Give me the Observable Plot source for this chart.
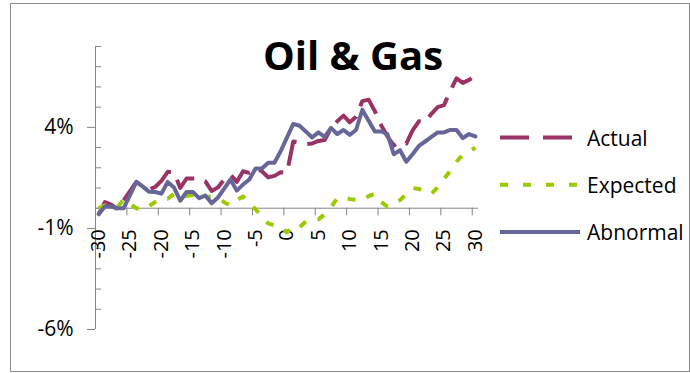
<!DOCTYPE html>
<html>
<head>
<meta charset="utf-8">
<script src="https://cdn.jsdelivr.net/npm/d3@7"></script>
<script src="https://cdn.jsdelivr.net/npm/@observablehq/plot@0.6"></script>
<style>
  html, body { margin: 0; padding: 0; background: #fff; }
  #chart { position: relative; width: 690px; height: 373px; overflow: hidden; background: #fff; }
  #chart svg { position: absolute; left: 0; top: 0; }
</style>
</head>
<body>
<div id="chart"></div>
<script>
// Event window (days relative to the event)
const days = [
  -30, -29, -28, -27, -26, -25, -24, -23, -22, -21,
  -20, -19, -18, -17, -16, -15, -14, -13, -12, -11,
  -10, -9, -8, -7, -6, -5, -4, -3, -2, -1,
  0, 1, 2, 3, 4, 5, 6, 7, 8, 9,
  10, 11, 12, 13, 14, 15, 16, 17, 18, 19,
  20, 21, 22, 23, 24, 25, 26, 27, 28, 29, 30
];

// Cumulative returns, in percent
const actual = [
  -0.30, 0.30, 0.18, -0.05, 0.40, 0.85, 1.30, 1.08, 0.92, 1.05,
  1.35, 1.80, 1.78, 1.00, 1.47, 1.47, 1.47, 1.33, 0.85, 1.03,
  1.42, 1.67, 1.30, 1.83, 1.75, 1.97, 1.83, 1.53, 1.60, 1.78,
  1.75, 3.30, 3.25, 3.17, 3.20, 3.33, 3.37, 3.95, 4.30, 4.58,
  4.25, 4.53, 5.30, 5.37, 4.80, 4.10, 3.55, 3.10, 3.30, 3.20,
  3.85, 4.30, 4.25, 4.67, 5.00, 5.10, 5.80, 6.42, 6.20, 6.35, 6.55
];
const expected = [
  0.00, 0.15, 0.10, 0.05, 0.45, 0.20, 0.00, -0.08, 0.10, 0.30,
  0.50, 0.47, 0.70, 0.55, 0.60, 0.65, 0.80, 0.58, 0.55, 0.50,
  0.30, 0.13, 0.40, 0.58, 0.25, -0.05, -0.42, -0.75, -0.85, -0.90,
  -1.20, -0.88, -0.95, -0.65, -0.60, -0.55, -0.30, 0.05, 0.50, 0.53,
  0.45, 0.42, 0.38, 0.60, 0.72, 0.30, 0.08, 0.22, 0.40, 0.70,
  1.00, 0.95, 0.87, 0.70, 1.05, 1.45, 1.85, 2.30, 2.65, 2.80, 3.00
];
const abnormal = [
  -0.30, 0.08, 0.08, 0.00, 0.00, 0.65, 1.30, 1.08, 0.82, 0.80,
  0.72, 1.30, 1.03, 0.37, 0.80, 0.80, 0.50, 0.63, 0.25, 0.53,
  0.97, 1.42, 0.87, 1.17, 1.42, 1.97, 1.97, 2.25, 2.25, 2.83,
  3.50, 4.17, 4.08, 3.80, 3.50, 3.75, 3.53, 3.97, 3.67, 3.87,
  3.63, 3.87, 4.87, 4.33, 3.80, 3.80, 3.67, 2.67, 2.87, 2.30,
  2.67, 3.08, 3.30, 3.53, 3.75, 3.75, 3.87, 3.87, 3.47, 3.67, 3.55
];

// Axis labels and tick positions
const xLabels = [-30, -25, -20, -15, -10, -5, 0, 5, 10, 15, 20, 25, 30];
const xTickMarks = [-25.5, -20.5, -15.5, -10.5, -5.5, -0.5, 4.5, 9.5, 14.5, 19.5, 24.5, 29.5];
const yMajor = [-6, -1, 4];
const yMinor = [-5, -4, -3, -2, 0, 1, 2, 3, 5, 6, 7, 8];

const seriesNames = ["Actual", "Expected", "Abnormal"];
const seriesColors = ["#993366", "#99cc00", "#666699"];

const title = "Oil & Gas";

// Layout
const W = 690, H = 373;
const M = {left: 95, right: 212, top: 46, bottom: 44};
const frameW = W - M.left - M.right;
const xDomain = [-30.5, 30.5];
const axisGray = "#868686";
const xTickLen = 0.38; // in percentage points (≈ 7–8 px)

const rows = days.map((day, i) => ({
  day, actual: actual[i], expected: expected[i], abnormal: abnormal[i]
}));

const plot = Plot.plot({
  width: W,
  height: H,
  marginLeft: M.left,
  marginRight: M.right,
  marginTop: M.top,
  marginBottom: M.bottom,
  x: {domain: xDomain, axis: null},
  y: {domain: [-6, 8]},
  style: {
    fontFamily: "'Open Sans', sans-serif",
    fontSize: "21px",
    color: "#000",
    background: "transparent",
    overflow: "visible"
  },
  marks: [
    // vertical axis line with minor (inside) and major (outside) ticks
    Plot.ruleX([xDomain[0]], {stroke: axisGray, strokeWidth: 1}),
    Plot.tickY(yMinor, {y: d => d, stroke: axisGray, insetRight: frameW - 6}),
    Plot.axisY(yMajor, {
      anchor: "left",
      tickSize: 8,
      tickPadding: 14,
      tickFormat: d => `${d}%`,
      stroke: axisGray,
      fill: "#000",
      fontSize: 21
    }),
    // horizontal axis at zero
    Plot.ruleY([0], {stroke: axisGray, strokeWidth: 1}),
    Plot.ruleX(xTickMarks, {x: d => d, y1: 0, y2: -xTickLen, stroke: axisGray}),
    Plot.text(xLabels, {
      x: d => d,
      y: 0,
      text: d => String(d),
      rotate: -90,
      textAnchor: "end",
      dy: 21,
      fontSize: 20,
      fill: "#000"
    }),
    // series
    Plot.lineY(rows, {
      x: "day", y: "actual",
      stroke: seriesColors[0], strokeWidth: 4,
      strokeDasharray: "28,11", strokeLinejoin: "round", strokeLinecap: "butt"
    }),
    Plot.lineY(rows, {
      x: "day", y: "expected",
      stroke: seriesColors[1], strokeWidth: 4,
      strokeDasharray: "8,12", strokeLinejoin: "round", strokeLinecap: "butt"
    }),
    Plot.lineY(rows, {
      x: "day", y: "abnormal",
      stroke: seriesColors[2], strokeWidth: 4,
      strokeLinejoin: "round", strokeLinecap: "round"
    })
  ]
});

const root = document.getElementById("chart");
root.appendChild(plot);

// Chart frame, title and legend drawn on top of the plot
const overlay = d3.select(root).append("svg")
  .attr("width", W).attr("height", H)
  .style("pointer-events", "none");

overlay.append("rect")
  .attr("x", 10.5).attr("y", 3.5)
  .attr("width", 679).attr("height", 368)
  .attr("fill", "none")
  .attr("stroke", "#8c8c8c");

overlay.append("text")
  .attr("x", 353).attr("y", 70)
  .attr("text-anchor", "middle")
  .style("font-family", "'Open Sans', sans-serif")
  .style("font-weight", "bold")
  .style("font-size", "40px")
  .attr("fill", "#000")
  .text(title);

const legendDash = ["29,14", "8,15", null];
const legend = overlay.append("g")
  .selectAll("g")
  .data(seriesNames)
  .join("g")
  .attr("transform", (d, i) => `translate(0, ${137.5 + i * 47.2})`);

legend.append("line")
  .attr("x1", 500).attr("x2", 580)
  .attr("stroke", (d, i) => seriesColors[i])
  .attr("stroke-width", 4)
  .attr("stroke-dasharray", (d, i) => legendDash[i]);

legend.append("text")
  .attr("x", 587).attr("y", 8.5)
  .style("font-family", "'Open Sans', sans-serif")
  .style("font-size", "21px")
  .attr("fill", "#000")
  .text(d => d);
</script>
</body>
</html>
